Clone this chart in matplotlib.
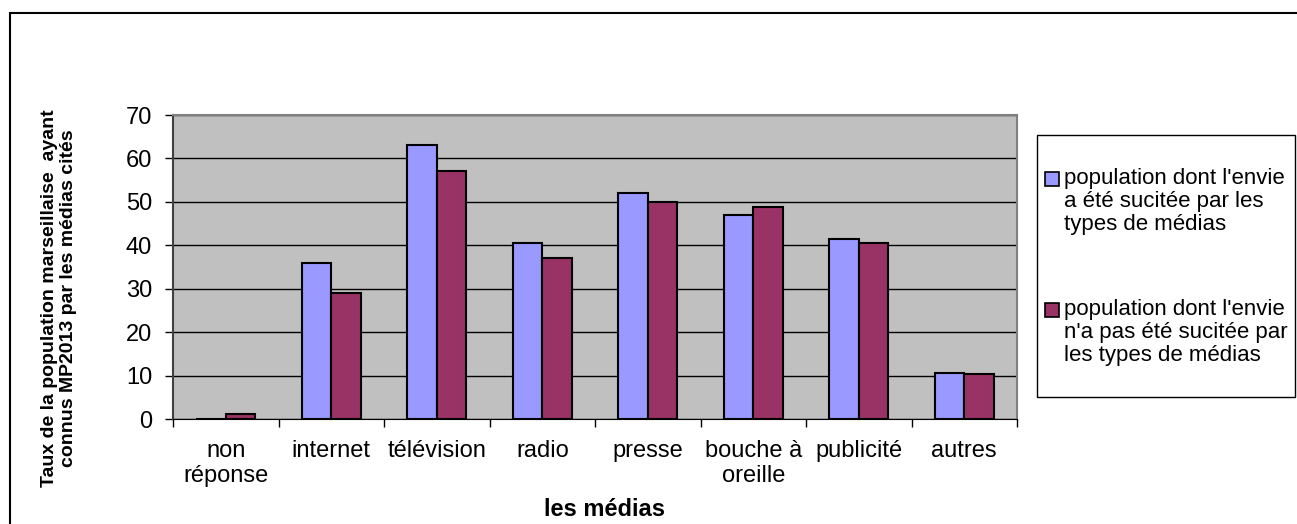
import numpy as np
import matplotlib
matplotlib.use("Agg")
import matplotlib.pyplot as plt
from matplotlib.patches import Rectangle

# data
categories = ["non\nréponse", "internet", "télévision", "radio", "presse",
              "bouche à\noreille", "publicité", "autres"]
suscitee = [0, 36.0, 63.2, 40.6, 52.1, 46.9, 41.5, 10.5]
non_suscitee = [1.1, 29.1, 57.1, 37.1, 49.9, 48.9, 40.6, 10.3]
labels = ["population dont l'envie\na été sucitée par les\ntypes de médias",
          "population dont l'envie\nn'a pas été sucitée par\nles types de médias"]
yticks = [0, 10, 20, 30, 40, 50, 60, 70]

blue = "#9999FF"
plum = "#993366"

plt.rcParams["font.family"] = ["Liberation Sans", "DejaVu Sans"]

W, H = 1297, 524
fig = plt.figure(figsize=(W / 100, H / 100), dpi=100)
ax = fig.add_axes([173 / W, 1 - 419 / H, (1017 - 173) / W, (419 - 115) / H])


def fx(px):
    return px / W


def fy(py):
    return 1 - py / H


x = np.arange(len(categories))
w = 0.28
ax.bar(x - w / 2, suscitee, w, color=blue, edgecolor="black", linewidth=1.5, zorder=3)
ax.bar(x + w / 2, non_suscitee, w, color=plum, edgecolor="black", linewidth=1.5, zorder=3)

ax.set_facecolor("#C0C0C0")
ax.set_xlim(-0.5, len(categories) - 0.5)
ax.set_ylim(0, 70)
ax.set_yticks(yticks)
ax.yaxis.grid(True, color="black", linewidth=1, zorder=1)
ax.set_axisbelow(True)

ax.set_xticks(np.arange(len(categories) + 1) - 0.5)
ax.set_xticklabels([])
ax.set_xticks(x, minor=True)
ax.set_xticklabels(categories, minor=True, fontsize=17, linespacing=1.2)
ax.tick_params(axis="x", which="minor", length=0, pad=15)
ax.tick_params(axis="x", which="major", length=6, width=1, direction="out")
ax.tick_params(axis="y", length=6, width=1, pad=9, labelsize=17)

for s in ["top", "right"]:
    ax.spines[s].set_color("#808080")
    ax.spines[s].set_linewidth(1.5)
ax.spines["left"].set_color("#404040")
ax.spines["left"].set_linewidth(1.5)
ax.spines["bottom"].set_color("black")

fig.text(fx(605), fy(509), "les médias", ha="center", va="center",
         fontsize=17, fontweight="bold")
fig.text(fx(59), fy(298),
         "Taux de la population marseillaise  ayant\nconnus MP2013 par les médias cités",
         rotation=90, ha="center", va="center", fontsize=14, fontweight="bold",
         multialignment="center", linespacing=1.15)

# legend box, drawn by hand so the swatch sits on the first text line
fig.patches.append(Rectangle((fx(1037), fy(397)), fx(1295 - 1037), (397 - 135) / H,
                             transform=fig.transFigure, facecolor="white",
                             edgecolor="black", linewidth=1))
for i, (lab, col) in enumerate(zip(labels, [blue, plum])):
    base = 185 + 131 * i
    fig.patches.append(Rectangle((fx(1045), fy(base + 1)), fx(14), 14 / H,
                                 transform=fig.transFigure, facecolor=col,
                                 edgecolor="black", linewidth=1.2))
    fig.text(fx(1064), fy(base - 17), lab, ha="left", va="top",
             fontsize=16, linespacing=1.12)

# outer frame of the chart area
fig.patches.append(Rectangle((fx(9.5), -0.1), 1.2, fy(12.5) + 0.1,
                             transform=fig.transFigure, fill=False,
                             edgecolor="black", linewidth=1.5))

fig.savefig("out.png", dpi=100)
